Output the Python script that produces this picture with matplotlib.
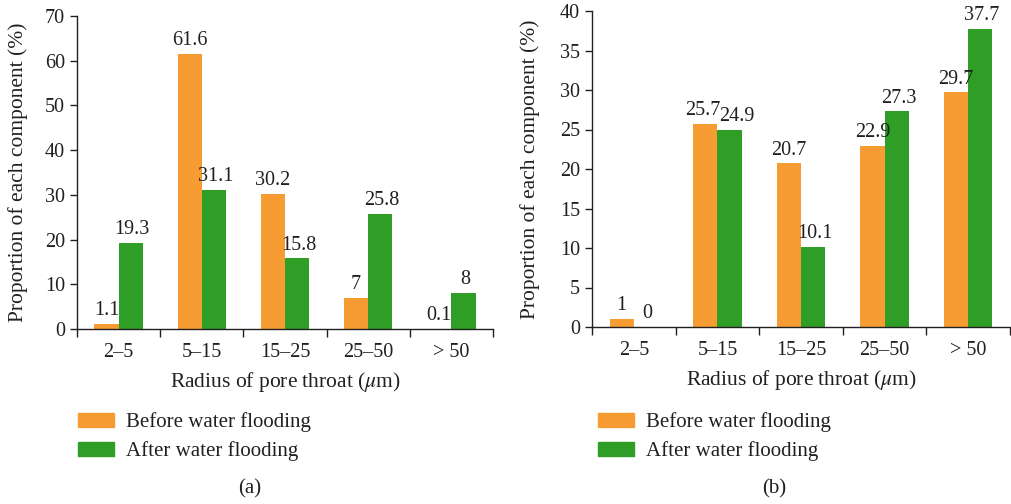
import numpy as np
import matplotlib.pyplot as plt
from matplotlib.patches import Patch

categories = ["2\u20135", "5\u201315", "15\u201325", "25\u201350", "> 50"]
before_a = [1.1, 61.6, 30.2, 7, 0.1]
after_a = [19.3, 31.1, 15.8, 25.8, 8]
before_b = [1, 25.7, 20.7, 22.9, 29.7]
after_b = [0, 24.9, 10.1, 27.3, 37.7]

orange = "#F79C33"
green = "#2F9E26"
ink = "#231F20"

plt.rcParams["font.family"] = ["Liberation Serif", "DejaVu Serif"]
plt.rcParams["mathtext.fontset"] = "stix"

W, H = 1011, 504
fig = plt.figure(figsize=(W / 100, H / 100), dpi=100)


def px(x0, y0, x1, y1):
    return [x0 / W, 1 - y1 / H, (x1 - x0) / W, (y1 - y0) / H]


def panel(rect, before, after, ymax, ystep, ylab_x):
    ax = fig.add_axes(rect)
    x = np.arange(len(categories))
    w = 0.29
    ax.bar(x - w / 2, before, w, color=orange)
    ax.bar(x + w / 2, after, w, color=green)
    for xi, b, a in zip(x, before, after):
        # push the two labels apart when they sit at about the same height
        nudge = 0.07 if (abs(b - a) < ymax * 0.06 and min(a, b) > ymax * 0.1) else 0
        ax.text(xi - w / 2 - nudge * 0.5, b + ymax * 0.012, f"{b:g}", ha="center", va="bottom",
                fontsize=14.5, color=ink)
        ax.text(xi + w / 2 + 0.02 + nudge, a + ymax * 0.012, f"{a:g}", ha="center", va="bottom",
                fontsize=14.5, color=ink)
    ax.set_xlim(-0.5, len(categories) - 0.5)
    ax.set_ylim(0, ymax)
    ax.set_yticks(np.arange(0, ymax + 0.1, ystep))
    ax.set_xticks(x)
    ax.set_xticklabels(categories)
    ax.set_xticks(np.arange(-0.5, len(categories), 1), minor=True)
    ax.tick_params(axis="x", which="major", length=0, labelsize=14.5, pad=10, colors=ink)
    ax.tick_params(axis="x", which="minor", length=6, width=1, direction="out", color=ink)
    ax.tick_params(axis="y", length=5, width=1, labelsize=14.5, colors=ink)
    for s in ["top", "right"]:
        ax.spines[s].set_visible(False)
    for s in ["left", "bottom"]:
        ax.spines[s].set_linewidth(1)
        ax.spines[s].set_color(ink)
    ax.set_xlabel(r"Radius of pore throat ($\mu$m)", fontsize=15.5, labelpad=6, color=ink)
    ax.set_ylabel("Proportion of each component (%)", fontsize=15.5, color=ink)
    ax.yaxis.set_label_coords(ylab_x, 0.5)
    return ax


ax1 = panel(px(77, 16, 493, 329), before_a, after_a, 70, 10, -0.118)
ax2 = panel(px(592, 11, 1010, 327), before_b, after_b, 40, 5, -0.124)

handles = [Patch(color=orange, label="Before water flooding"),
           Patch(color=green, label="After water flooding")]
for lx in [76, 596]:
    fig.legend(handles=handles, loc="upper left", bbox_to_anchor=(lx / W, 1 - 410 / H),
               frameon=False, fontsize=15, handlelength=1.7, handleheight=0.65,
               handletextpad=0.6, labelspacing=0.45, borderaxespad=0, borderpad=0.1,
               labelcolor=ink)
fig.text(250 / W, 1 - 489 / H, "(a)", ha="center", va="center", fontsize=15, color=ink)
fig.text(774 / W, 1 - 489 / H, "(b)", ha="center", va="center", fontsize=15, color=ink)

fig.savefig("out.png", dpi=100)
